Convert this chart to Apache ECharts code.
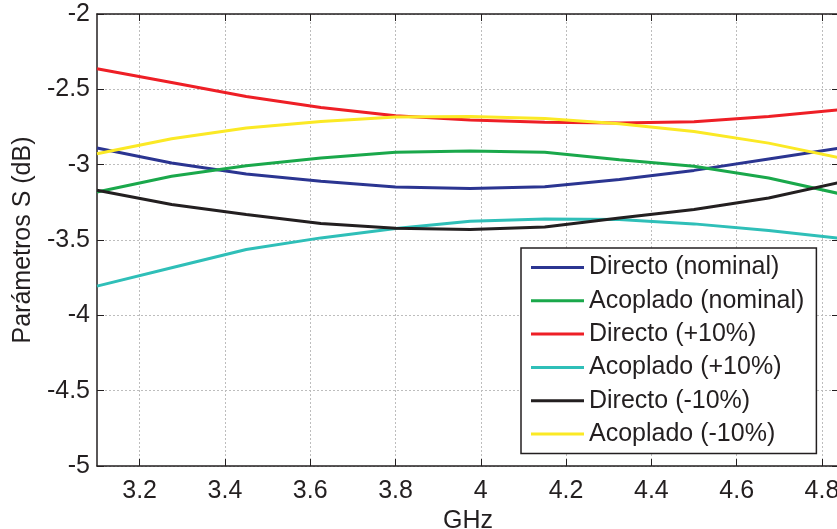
<!DOCTYPE html>
<html>
<head>
<meta charset="utf-8">
<script src="https://cdn.jsdelivr.net/npm/echarts@6/dist/echarts.min.js"></script>
<style>
  html, body { margin: 0; padding: 0; background: #ffffff; }
  #chart { width: 837px; height: 529px; }
</style>
</head>
<body>
<div id="chart"></div>
<script>
// Frequency sweep (GHz)
const freq = [3.1, 3.275, 3.45, 3.625, 3.8, 3.975, 4.15, 4.325, 4.5, 4.675, 4.85];

// S-parameters (dB) per case
const directoNominal  = [-2.889, -2.989, -3.062, -3.110, -3.148, -3.159, -3.146, -3.099, -3.038, -2.962, -2.886];
const acopladoNominal = [-3.181, -3.077, -3.007, -2.956, -2.918, -2.909, -2.918, -2.967, -3.011, -3.088, -3.198];
const directoMas10    = [-2.364, -2.455, -2.548, -2.620, -2.675, -2.704, -2.718, -2.723, -2.715, -2.680, -2.634];
const acopladoMas10   = [-3.806, -3.684, -3.563, -3.486, -3.424, -3.376, -3.360, -3.364, -3.393, -3.437, -3.492];
const directoMenos10  = [-3.170, -3.265, -3.331, -3.391, -3.422, -3.430, -3.413, -3.354, -3.298, -3.221, -3.112];
const acopladoMenos10 = [-2.927, -2.828, -2.757, -2.713, -2.684, -2.680, -2.693, -2.728, -2.780, -2.857, -2.960];

// Axis ticks
const xTicks = [3.2, 3.4, 3.6, 3.8, 4.0, 4.2, 4.4, 4.6, 4.8];
const seriesNames = ['Directo (nominal)', 'Acoplado (nominal)', 'Directo (+10%)',
                     'Acoplado (+10%)', 'Directo (-10%)', 'Acoplado (-10%)'];

const seriesValues = [directoNominal, acopladoNominal, directoMas10,
                      acopladoMas10, directoMenos10, acopladoMenos10];
const seriesColors = ['#2b3591', '#1aa84b', '#ee1f26', '#2fbfb8', '#231f20', '#fbe925'];

const FONT = "'Liberation Sans', Arial, Helvetica, sans-serif";
const INK = '#231f20';
// plain line swatch for the legend (extra move-to points keep the 53x20 box)
const LINE_ICON = 'path://M0,0 M53,20 M0,8.5 L53,8.5 L53,11.5 L0,11.5 Z';

const chart = echarts.init(document.getElementById('chart'), null, { renderer: 'canvas' });

const frameAxis = {
  axisLine: { show: true, onZero: false, lineStyle: { color: INK, width: 1.5 } },
  axisTick: { show: true, inside: true, length: 7, lineStyle: { color: INK, width: 1 } },
  axisLabel: { show: false },
  splitLine: { show: false }
};

chart.setOption({
  animation: false,
  backgroundColor: '#ffffff',
  grid: { left: 97, top: 14, width: 742, height: 452, containLabel: false, outerBoundsMode: 'none' },
  xAxis: [
    {
      type: 'value', min: 3.1, max: 4.84, position: 'bottom',
      name: 'GHz', nameLocation: 'middle', nameGap: 33,
      nameTextStyle: { color: INK, fontSize: 25, fontFamily: FONT },
      axisLine: { show: true, onZero: false, lineStyle: { color: INK, width: 1.5 } },
      axisTick: { show: true, inside: true, length: 7, customValues: xTicks, lineStyle: { color: INK, width: 1 } },
      axisLabel: {
        customValues: xTicks, margin: 13, color: INK, fontSize: 25, fontFamily: FONT,
        formatter: v => String(Math.round(v * 10) / 10)
      },
      splitLine: { show: true, lineStyle: { color: '#bdbdbd', width: 1, type: [2, 2] } }
    },
    Object.assign({ type: 'value', min: 3.1, max: 4.84, position: 'top' }, frameAxis,
      { axisTick: Object.assign({}, frameAxis.axisTick, { customValues: xTicks }) })
  ],
  yAxis: [
    {
      type: 'value', min: -5, max: -2, interval: 0.5, position: 'left',
      name: 'Parámetros S (dB)', nameLocation: 'middle', nameGap: 60, nameRotate: 90,
      nameTextStyle: { color: INK, fontSize: 25, fontFamily: FONT },
      axisLine: { show: true, onZero: false, lineStyle: { color: INK, width: 1.5 } },
      axisTick: { show: true, inside: true, length: 7, lineStyle: { color: INK, width: 1 } },
      axisLabel: { margin: 7, color: INK, fontSize: 25, fontFamily: FONT },
      splitLine: { show: true, lineStyle: { color: '#bdbdbd', width: 1, type: [2, 2] } }
    },
    Object.assign({ type: 'value', min: -5, max: -2, interval: 0.5, position: 'right' }, frameAxis)
  ],
  legend: {
    orient: 'vertical', left: 521, top: 248,
    padding: [7, 12, 7, 10],
    icon: LINE_ICON,
    itemWidth: 53, itemHeight: 20, itemGap: 8.3,
    backgroundColor: '#ffffff', borderColor: INK, borderWidth: 1.5,
    textStyle: { color: INK, fontSize: 25, fontFamily: FONT },
    data: seriesNames
  },
  series: seriesNames.map((name, i) => ({
    name: name,
    type: 'line',
    xAxisIndex: 0, yAxisIndex: 0,
    showSymbol: false, symbol: 'none',
    smooth: false, clip: true,
    color: seriesColors[i],
    lineStyle: { color: seriesColors[i], width: 3 },
    data: freq.map((f, k) => [f, seriesValues[i][k]])
  }))
});
</script>
</body>
</html>
